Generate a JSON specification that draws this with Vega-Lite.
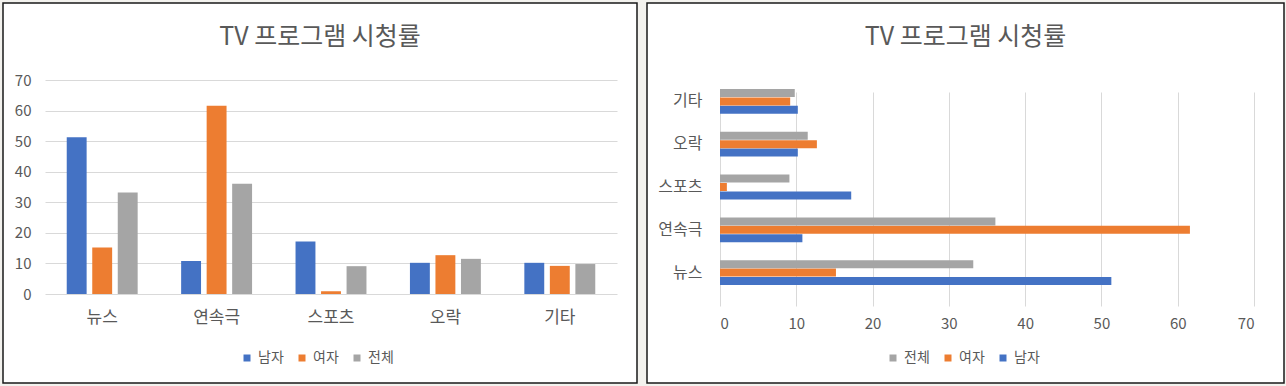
{
  "$schema": "https://vega.github.io/schema/vega-lite/v6.json",
  "background": "#F3F2EE",
  "padding": {"left": 2, "top": 2, "right": 2, "bottom": 4},
  "datasets": {
    "tv": [
      {"category": "뉴스", "gender": "남자", "value": 51.3},
      {"category": "뉴스", "gender": "여자", "value": 15.2},
      {"category": "뉴스", "gender": "전체", "value": 33.2},
      {"category": "연속극", "gender": "남자", "value": 10.8},
      {"category": "연속극", "gender": "여자", "value": 61.6},
      {"category": "연속극", "gender": "전체", "value": 36.1},
      {"category": "스포츠", "gender": "남자", "value": 17.2},
      {"category": "스포츠", "gender": "여자", "value": 0.9},
      {"category": "스포츠", "gender": "전체", "value": 9.1},
      {"category": "오락", "gender": "남자", "value": 10.2},
      {"category": "오락", "gender": "여자", "value": 12.7},
      {"category": "오락", "gender": "전체", "value": 11.5},
      {"category": "기타", "gender": "남자", "value": 10.2},
      {"category": "기타", "gender": "여자", "value": 9.2},
      {"category": "기타", "gender": "전체", "value": 9.8}
    ]
  },
  "config": {
    "view": {"stroke": "#1a1a1a", "strokeWidth": 1.5, "fill": "white"},
    "font": "Noto Sans CJK KR",
    "axis": {
      "labelFont": "Noto Sans CJK KR",
      "labelColor": "#595959",
      "labelFontSize": 15,
      "ticks": false,
      "tickSize": 0,
      "domain": false,
      "gridColor": "#D9D9D9",
      "gridWidth": 1
    },
    "legend": {
      "symbolType": "square",
      "symbolSize": 49,
      "symbolStrokeWidth": 0,
      "labelFont": "Noto Sans CJK KR",
      "labelFontSize": 14,
      "labelColor": "#595959",
      "labelOffset": 4,
      "columnPadding": 11
    },
    "title": {
      "font": "Noto Sans CJK KR",
      "fontSize": 25,
      "fontWeight": "normal",
      "color": "#595959",
      "anchor": "middle",
      "frame": "group"
    }
  },
  "spacing": 8,
  "resolve": {
    "scale": {"x": "independent", "y": "independent", "color": "independent", "xOffset": "independent", "yOffset": "independent"},
    "legend": {"color": "independent"},
    "axis": {"x": "independent", "y": "independent"}
  },
  "hconcat": [
    {
      "width": 634,
      "height": 380,
      "data": {"name": "tv"},
      "title": {"text": "TV 프로그램 시청률", "offset": -47},
      "mark": {"type": "bar"},
      "encoding": {
        "x": {
          "field": "category", "type": "nominal",
          "sort": ["뉴스", "연속극", "스포츠", "오락", "기타"],
          "scale": {"range": [42, 614], "paddingInner": 0.38, "paddingOuter": 0.19},
          "axis": {"title": null, "labelAngle": 0, "offset": -89, "labelPadding": 15, "grid": false, "labelFontSize": 17}
        },
        "xOffset": {
          "field": "gender", "type": "nominal",
          "sort": ["남자", "여자", "전체"],
          "scale": {"paddingInner": 0.22, "paddingOuter": 0}
        },
        "y": {
          "field": "value", "type": "quantitative",
          "scale": {"domain": [0, 70], "range": [291, 77], "nice": false},
          "axis": {"title": null, "values": [0, 10, 20, 30, 40, 50, 60, 70], "offset": -42, "labelPadding": 14, "grid": true}
        },
        "color": {
          "field": "gender", "type": "nominal",
          "scale": {"domain": ["남자", "여자", "전체"], "range": ["#4472C4", "#ED7D31", "#A5A5A5"]},
          "legend": {"orient": "none", "legendX": 237, "legendY": 348, "direction": "horizontal", "title": null}
        }
      }
    },
    {
      "width": 637,
      "height": 380,
      "data": {"name": "tv"},
      "title": {"text": "TV 프로그램 시청률", "offset": -47},
      "mark": {"type": "bar"},
      "encoding": {
        "y": {
          "field": "category", "type": "nominal",
          "sort": ["기타", "오락", "스포츠", "연속극", "뉴스"],
          "scale": {"range": [77, 291], "paddingInner": 0.42, "paddingOuter": 0.21},
          "axis": {"title": null, "offset": -73, "labelPadding": 18, "grid": false, "labelFontSize": 16}
        },
        "yOffset": {
          "field": "gender", "type": "nominal",
          "sort": ["전체", "여자", "남자"],
          "scale": {"paddingInner": 0.05, "paddingOuter": 0}
        },
        "x": {
          "field": "value", "type": "quantitative",
          "scale": {"domain": [0, 70], "range": [73, 607], "nice": false},
          "axis": {"title": null, "values": [0, 10, 20, 30, 40, 50, 60, 70], "offset": -89, "labelPadding": 22, "grid": true}
        },
        "color": {
          "field": "gender", "type": "nominal",
          "scale": {"domain": ["전체", "여자", "남자"], "range": ["#A5A5A5", "#ED7D31", "#4472C4"]},
          "legend": {"orient": "none", "legendX": 239, "legendY": 348, "direction": "horizontal", "title": null}
        }
      }
    }
  ]
}
